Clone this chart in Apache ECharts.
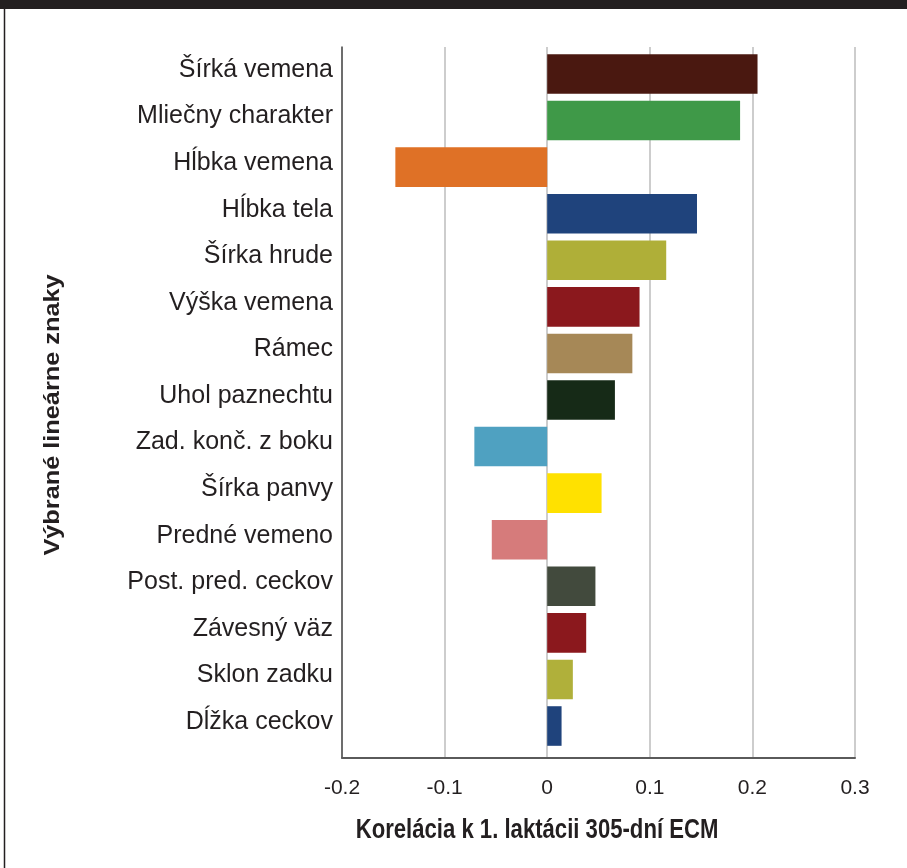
<!DOCTYPE html>
<html>
<head>
<meta charset="utf-8">
<script src="https://cdn.jsdelivr.net/npm/echarts@6/dist/echarts.min.js"></script>
<style>
  html, body { margin: 0; padding: 0; background: #ffffff; }
  #chart { width: 907px; height: 868px; }
</style>
</head>
<body>
<div id="chart"></div>
<script>
// Vybrané lineárne znaky a ich korelácia k 1. laktácii (305-dní ECM)
const traits = [
  'Šírká vemena', 'Mliečny charakter', 'Hĺbka vemena', 'Hĺbka tela', 'Šírka hrude',
  'Výška vemena', 'Rámec', 'Uhol paznechtu', 'Zad. konč. z boku', 'Šírka panvy',
  'Predné vemeno', 'Post. pred. ceckov', 'Závesný väz', 'Sklon zadku', 'Dĺžka ceckov'
];
const correlations = [
  0.205, 0.188, -0.148, 0.146, 0.116,
  0.090, 0.083, 0.066, -0.071, 0.053,
  -0.054, 0.047, 0.038, 0.025, 0.014
];
const axisTicks = [-0.2, -0.1, 0, 0.1, 0.2, 0.3];
const xTitle = 'Korelácia k 1. laktácii 305-dní ECM';
const yTitle = 'Výbrané lineárne znaky';

const barColors = [
  '#4a1810', '#3f9948', '#df7126', '#1f437c', '#afaf38',
  '#8b181d', '#a68857', '#162a17', '#4fa1c1', '#ffe100',
  '#d67b7b', '#424a3d', '#8b181d', '#b0b03a', '#1f437c'
];

const ink = '#231f20';
const font = "'Liberation Sans', Arial, sans-serif";
const tickMin = axisTicks[0];
const tickMax = axisTicks[axisTicks.length - 1];
const tickStep = 0.1;

const chart = echarts.init(document.getElementById('chart'), null, { renderer: 'canvas' });

chart.setOption({
  backgroundColor: '#ffffff',
  animation: false,
  textStyle: { fontFamily: font, color: ink },
  grid: [
    // bars
    { left: 342, width: 513, top: 50.7, height: 698.6, containLabel: false },
    // frame: gridlines and axis lines
    { left: 342, width: 513, top: 47, height: 711, containLabel: false }
  ],
  xAxis: [
    {
      gridIndex: 0, type: 'value', min: tickMin, max: tickMax, interval: tickStep,
      show: false
    },
    {
      gridIndex: 1, type: 'value', min: tickMin, max: tickMax, interval: tickStep,
      axisLine: { show: true, onZero: false, lineStyle: { color: '#5a5a5a', width: 2 } },
      axisTick: { show: false },
      splitLine: { show: true, lineStyle: { color: '#bdbdbd', width: 1.5 } },
      axisLabel: {
        margin: 20, fontSize: 21, color: ink, fontFamily: font,
        formatter: v => (Math.abs(v) < 1e-9 ? '0' : String(Math.round(v * 10) / 10))
      }
    }
  ],
  yAxis: [
    {
      gridIndex: 0, type: 'category', data: traits, inverse: true,
      axisLine: { show: false },
      axisTick: { show: false },
      splitLine: { show: false },
      axisLabel: {
        margin: 9, fontSize: 25, color: ink, fontFamily: font,
        // labels sit a little above the bar centres
        verticalAlign: 'bottom', lineHeight: 8
      }
    },
    {
      gridIndex: 1, type: 'value', min: 0, max: 1,
      axisLine: { show: true, onZero: false, lineStyle: { color: '#4d4d4d', width: 1.5 } },
      axisTick: { show: false },
      axisLabel: { show: false },
      splitLine: { show: false }
    }
  ],
  series: [
    {
      type: 'bar',
      xAxisIndex: 0,
      yAxisIndex: 0,
      data: correlations,
      barCategoryGap: '15%',
      itemStyle: {
        color: p => barColors[p.dataIndex]
      },
      z: 3
    }
  ],
  graphic: [
    {
      type: 'rect', silent: true, z: 10,
      shape: { x: 0, y: 0, width: 907, height: 9 },
      style: { fill: ink }
    },
    {
      type: 'line', silent: true, z: 10,
      shape: { x1: 4.5, y1: 9, x2: 4.5, y2: 868 },
      style: { stroke: ink, lineWidth: 1.5 }
    },
    {
      // x-axis title, tall condensed lettering
      type: 'text', silent: true, z: 10,
      x: 537, y: 830, scaleX: 0.79, scaleY: 1,
      style: {
        text: xTitle, fill: ink,
        font: "bold 28px 'Liberation Sans', Arial, sans-serif",
        textAlign: 'center', textVerticalAlign: 'middle'
      }
    },
    {
      // y-axis title, rotated
      type: 'text', silent: true, z: 10,
      x: 53, y: 415, rotation: Math.PI / 2, scaleX: 1.15, scaleY: 1,
      style: {
        text: yTitle, fill: ink,
        font: "bold 22px 'Liberation Sans', Arial, sans-serif",
        textAlign: 'center', textVerticalAlign: 'middle'
      }
    }
  ]
});
</script>
</body>
</html>
